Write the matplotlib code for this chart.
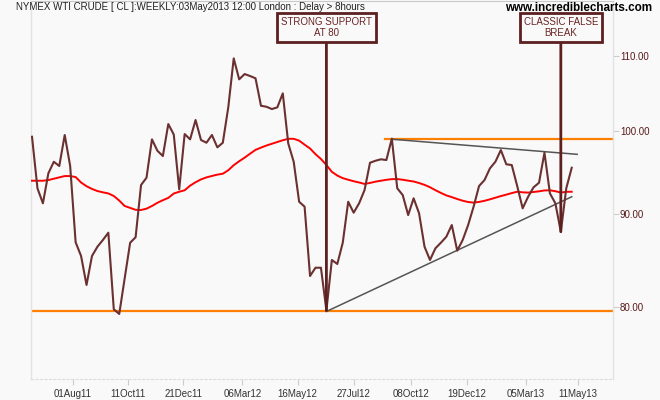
import matplotlib
matplotlib.use('Agg')
import matplotlib.pyplot as plt
import pandas as pd
import numpy as np
from matplotlib.ticker import FixedLocator, NullLocator, FixedFormatter

plt.rcParams['font.family'] = ['Liberation Sans', 'DejaVu Sans']

# ---------------- data ----------------
start_date = '2011-06-10'   # weekly closes, last = 03 May 2013

close = [99.24, 92.95, 91.20, 94.74, 96.14, 95.62, 99.46, 95.62, 86.80, 85.30,
         82.22, 85.30, 86.31, 87.05, 87.86, 79.72, 79.25, 82.92, 86.75, 87.35,
         93.34, 94.21, 98.91, 97.49, 96.84, 100.85, 99.52, 92.83, 99.58, 98.91,
         101.37, 98.83, 98.49, 99.46, 97.91, 98.49, 103.01, 109.62, 106.74, 107.46,
         107.19, 106.88, 103.22, 103.09, 102.79, 103.01, 104.86, 98.41, 96.14, 91.38,
         90.81, 83.16, 84.04, 84.04, 79.60, 84.87, 84.44, 86.75, 91.38, 90.12,
         91.20, 92.75, 96.02, 96.26, 96.44, 96.35, 99.00, 92.95, 92.16, 89.85,
         91.78, 90.05, 86.31, 84.87, 86.14, 86.75, 87.41, 88.72, 85.88, 87.05,
         88.72, 90.81, 93.22, 93.93, 95.34, 96.14, 97.58, 95.83, 95.74, 93.22,
         90.62, 91.96, 93.07, 93.61, 97.25, 92.36, 91.20, 87.97, 92.95, 95.41]

moving_avg = [93.85, 93.85, 93.85, 93.93, 94.09, 94.25, 94.41, 94.41, 94.29, 93.64,
              93.20, 92.88, 92.63, 92.48, 92.35, 92.05, 91.52, 90.89, 90.67, 90.45,
              90.43, 90.58, 90.89, 91.26, 91.56, 91.83, 92.34, 92.55, 92.72, 93.27,
              93.67, 94.01, 94.25, 94.42, 94.58, 94.69, 95.11, 95.72, 96.20, 96.64,
              97.13, 97.60, 97.88, 98.14, 98.36, 98.58, 98.80, 98.98, 98.98, 98.75,
              98.25, 97.77, 97.07, 96.48, 95.74, 94.92, 94.47, 94.16, 93.97, 93.79,
              93.64, 93.47, 93.59, 93.74, 93.85, 93.96, 94.04, 94.05, 93.97, 93.86,
              93.76, 93.58, 93.36, 93.08, 92.73, 92.41, 92.12, 91.92, 91.70, 91.50,
              91.35, 91.28, 91.36, 91.49, 91.66, 91.85, 92.04, 92.21, 92.39, 92.55,
              92.48, 92.45, 92.52, 92.60, 92.70, 92.72, 92.61, 92.45, 92.54, 92.55]

support_level = 79.5
resistance_level = 99.0
resistance_start_week = 64.7

rising_trend_weeks = [54, 99]
rising_trend_vals = [79.5, 91.96]
falling_trend_weeks = [66, 100]
falling_trend_vals = [98.93, 97.05]

x_tick_dates = ['2011-08-01', '2011-10-11', '2011-12-21', '2012-03-06', '2012-05-16',
                '2012-07-27', '2012-10-08', '2012-12-19', '2013-03-05', '2013-05-11']
x_tick_labels = ['01Aug11', '11Oct11', '21Dec11', '06Mar12', '16May12',
                 '27Jul12', '08Oct12', '19Dec12', '05Mar13', '11May13']
y_ticks = [80, 90, 100, 110]
y_tick_labels = ['80.00', '90.00', '100.00', '110.00']

notes = ['STRONG SUPPORT\nAT 80', 'CLASSIC FALSE\nBREAK']
note_weeks = [54, 97]

title = 'NYMEX WTI CRUDE [ CL ]:WEEKLY:03May2013 12:00 London : Delay > 8hours'
watermark = 'www.incrediblecharts.com'

# ---------------- drawing ----------------
BG = '#f9f9f9'
PRICE = '#6b3030'
BOXC = '#5c2020'

dates = pd.date_range(start_date, periods=len(close), freq='7D')
week = pd.Timedelta(days=7)
t0 = dates[0]

def wdate(w):
    return t0 + w * week

fig = plt.figure(figsize=(6.6, 4.0), dpi=100, facecolor=BG)
W, H = 660, 400
ax = fig.add_axes([31 / W, (H - 379) / H, (613 - 31) / W, (379 - 1) / H])
ax.set_facecolor(BG)
ax.set_yscale('log')
ax.set_ylim(72.97, 117.9)
ax.set_xlim(t0 - pd.Timedelta(days=1.3), t0 + pd.Timedelta(days=746))

# horizontal levels
ax.axhline(support_level, color='#ff8000', lw=1.6, zorder=2)
ax.plot([wdate(resistance_start_week), t0 + pd.Timedelta(days=800)],
        [resistance_level, resistance_level], color='#ff8000', lw=1.6, zorder=2)

# trend lines
ax.plot([wdate(w) for w in rising_trend_weeks], rising_trend_vals,
        color='#555555', lw=1.1, zorder=3)
ax.plot([wdate(w) for w in falling_trend_weeks], falling_trend_vals,
        color='#555555', lw=1.1, zorder=3)

# series
ax.plot(dates, moving_avg, color='#ff0000', lw=1.4, zorder=4)
ax.plot(dates, close, color=PRICE, lw=1.5, zorder=5)

# annotations
for txt, w in zip(notes, note_weeks):
    ax.annotate(txt, xy=(dates[w], close[w]), xycoords='data',
                xytext=(dates[w], 0.93), textcoords=('data', 'axes fraction'),
                ha='center', va='center', fontsize=7.0, color='#6b2424',
                linespacing=1.05, zorder=6,
                bbox=dict(boxstyle='square,pad=0.4', fc=BG, ec=BOXC, lw=2),
                arrowprops=dict(arrowstyle='-', color=BOXC, lw=2,
                                shrinkA=0, shrinkB=0))

# axes styling
ax.yaxis.tick_right()
ax.yaxis.set_major_locator(FixedLocator(y_ticks))
ax.yaxis.set_major_formatter(FixedFormatter(y_tick_labels))
ax.yaxis.set_minor_locator(NullLocator())
ax.tick_params(axis='y', which='major', length=4, color='#cccccc', labelcolor='#5a1a1a',
               labelsize=7, pad=1, direction='out')
xt = [pd.Timestamp(d) for d in x_tick_dates]
ax.set_xticks(xt)
ax.set_xticklabels(x_tick_labels)
ax.xaxis.set_minor_locator(NullLocator())
ax.tick_params(axis='x', length=4, color='#cccccc', labelcolor='#333333',
               labelsize=7, pad=3, direction='out')

for s in ['left', 'right']:
    ax.spines[s].set_color('#e2e2e2')
    ax.spines[s].set_linewidth(1)
ax.spines['top'].set_color('#c8c8c8')
ax.spines['bottom'].set_color('#dddddd')
ax.spines['bottom'].set_linestyle((0, (2, 2)))

fig.text(16 / W, 1 - 7 / H, title, ha='left', va='center', fontsize=7.0, color='#222222')
fig.text(652 / W, 1 - 8 / H, watermark, ha='right', va='center', fontsize=8.4,
         fontweight='bold', color='#000000')

fig.savefig('out.png', dpi=100, facecolor=BG)
